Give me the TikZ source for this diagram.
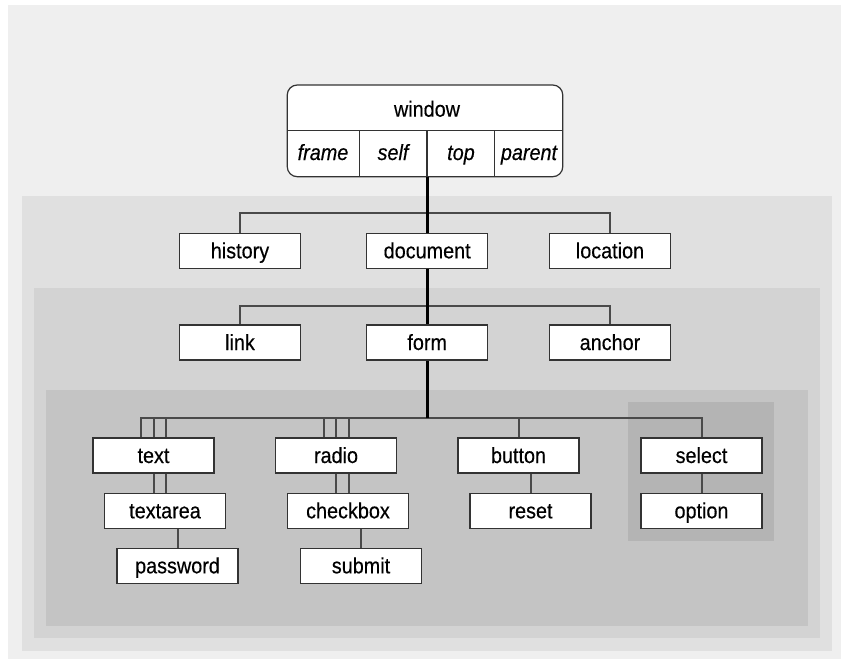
\documentclass[tikz,border=0pt]{standalone}
\usepackage{fontspec}
\setmainfont{Liberation Sans}[FakeStretch=0.9,FakeBold=0.35]
\definecolor{bgA}{HTML}{EFEFEF}
\definecolor{bgB}{HTML}{E0E0E0}
\definecolor{bgC}{HTML}{D3D3D3}
\definecolor{bgD}{HTML}{C4C4C4}
\definecolor{bgE}{HTML}{B4B4B4}
\definecolor{linegray}{HTML}{4A4A4A}
\definecolor{boxline}{HTML}{333333}
\begin{document}
\begin{tikzpicture}[x=1pt,y=-1pt,
  lbl/.style={inner sep=0pt, text height=16.5pt, text depth=1.5pt, font=\fontsize{22}{26}\selectfont},
  objbox/.style={lbl, draw=boxline, line width=1.2pt, fill=white, minimum width=121pt, minimum height=35pt},
  conn/.style={draw=linegray, line width=2pt},
  trunk/.style={draw=black, line width=3pt},
  cell/.style={lbl, font=\fontsize{22}{26}\selectfont\itshape}]
\useasboundingbox (0,0) rectangle (841,659);
\fill[white] (0,0) rectangle (841,659);
\fill[bgA] (8,5) rectangle (841,659);
\fill[bgB] (22,196) rectangle (832,651);
\fill[bgC] (34,288) rectangle (820,638);
\fill[bgD] (46,390) rectangle (808,626);
\fill[bgE] (628,402) rectangle (774,541);

% window object
\node[draw=boxline, line width=1.2pt, fill=white, rounded corners=10pt, minimum width=275.5pt, minimum height=91.7pt, inner sep=0pt] (win) at (425,130.85) {};
\coordinate (wmidL) at (287.3,130.7);
\coordinate (wmidR) at (562.7,130.7);
\draw[draw=boxline, line width=1.2pt] (wmidL) -- (wmidR);
\coordinate (d1) at (359.3,130.7);
\coordinate (d2) at (427,130.7);
\coordinate (d3) at (494.7,130.7);
\draw[draw=boxline, line width=1.2pt] (d1) -- (d1 |- win.south);
\draw[draw=boxline, line width=1.2pt] (d2) -- (d2 |- win.south);
\draw[draw=boxline, line width=1.2pt] (d3) -- (d3 |- win.south);
\node[lbl] (wlabel) at (427,109.2) {window};
\node[cell] (frame) at (323,152.5) {frame};
\node[cell] (self) at (393,152.5) {self};
\node[cell] (top) at (461,152.5) {top};
\node[cell] (parent) at (529,152.5) {parent};

% nodes
\node[objbox] (history) at (240,250.8) {history};
\node[objbox] (document) at (427.2,250.8) {document};
\node[objbox] (location) at (610,250.8) {location};
\node[objbox] (link) at (240,342.5) {link};
\node[objbox] (form) at (427.2,342.5) {form};
\node[objbox] (anchor) at (610,342.5) {anchor};
\node[objbox] (text) at (153.5,455.5) {text};
\node[objbox] (radio) at (336,455.5) {radio};
\node[objbox] (button) at (518.5,455.5) {button};
\node[objbox] (select) at (701.5,455.5) {select};
\node[objbox] (textarea) at (165,510.8) {textarea};
\node[objbox] (checkbox) at (348,510.8) {checkbox};
\node[objbox] (reset) at (530.5,510.8) {reset};
\node[objbox] (option) at (701.5,510.8) {option};
\node[objbox] (password) at (177.5,565.8) {password};
\node[objbox] (submit) at (361,565.8) {submit};

% bars
\coordinate (b1) at (0,213);
\coordinate (b2) at (0,305.5);
\coordinate (b3) at (0,417.5);

\draw[conn] (history.north) -- (history.north |- b1) -- (location.north |- b1) -- (location.north);
\draw[conn] (link.north) -- (link.north |- b2) -- (anchor.north |- b2) -- (anchor.north);
\draw[conn] ([xshift=-12.5pt]text.north) -- ([xshift=-12.5pt]text.north |- b3) -- (select.north |- b3) -- (select.north);
\draw[conn] (text.north) -- (text.north |- b3);
\draw[conn] ([xshift=12.5pt]text.north) -- ([xshift=12.5pt]text.north |- b3);
\draw[conn] ([xshift=-12.5pt]radio.north) -- ([xshift=-12.5pt]radio.north |- b3);
\draw[conn] (radio.north) -- (radio.north |- b3);
\draw[conn] ([xshift=12.5pt]radio.north) -- ([xshift=12.5pt]radio.north |- b3);
\draw[conn] (button.north) -- (button.north |- b3);

\draw[conn] (text.south) -- (text.south |- textarea.north);
\draw[conn] ([xshift=12.5pt]text.south) -- ([xshift=12.5pt]text.south |- textarea.north);
\draw[conn] (password.north |- textarea.south) -- (password.north);
\draw[conn] (radio.south) -- (radio.south |- checkbox.north);
\draw[conn] ([xshift=12.5pt]radio.south) -- ([xshift=12.5pt]radio.south |- checkbox.north);
\draw[conn] (submit.north |- checkbox.south) -- (submit.north);
\draw[conn] (reset.north |- button.south) -- (reset.north);
\draw[conn] (select.south) -- (option.north);

% trunk
\draw[trunk] (document.north |- win.south) -- (document.north);
\draw[trunk] (document.south) -- (form.north);
\draw[trunk] (form.south) -- (form.south |- b3);
\end{tikzpicture}
\end{document}
